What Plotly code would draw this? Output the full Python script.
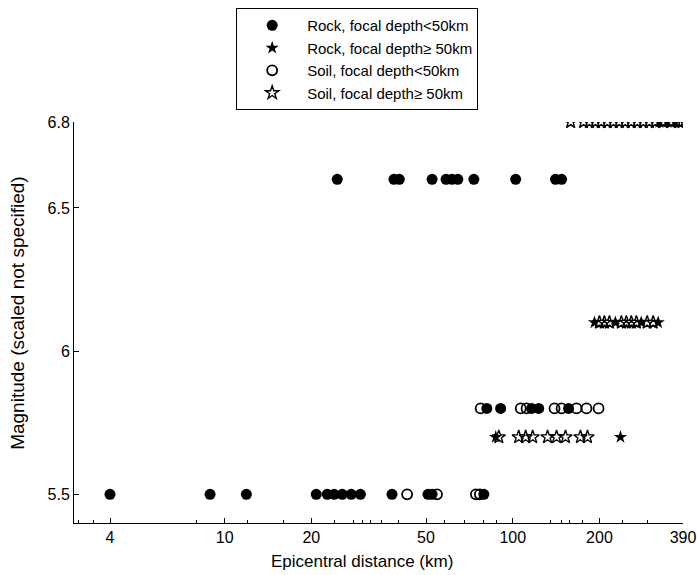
import plotly.graph_objects as go

# ---- data (epicentral distance km, magnitude) ----
rock_shallow_x = [24.6, 38.7, 40.4, 52.5, 58.7, 61.5, 64.5, 73.3, 102.4, 140.8, 147.8,
                  4.0, 8.9, 11.9, 20.8, 22.7, 24.0, 25.6, 27.5, 29.6, 38.1, 50.8, 52.5, 79.4,
                  81.3, 90.8, 116.3, 123.1, 156.3]
rock_shallow_y = [6.6] * 11 + [5.5] * 13 + [5.8] * 5

rock_deep_x = [87.3, 236.6, 192.2, 227.2, 279.3, 319.8, 322.6, 343.6, 366.0]
rock_deep_y = [5.7, 5.7, 6.1, 6.1, 6.1, 6.1, 6.8, 6.8, 6.8]

soil_shallow_x = [43.0, 54.6, 74.5, 76.9,
                  77.4, 106.6, 111.7, 139.7, 147.8, 166.5, 180.3, 198.6]
soil_shallow_y = [5.5] * 4 + [5.8] * 8

soil_deep_x = [89.5, 104.9, 110.9, 117.3, 132.1, 142.0, 152.5, 171.8, 181.8,
               200.0, 208.0, 216.6, 238.3, 248.0, 258.0, 268.7, 292.9, 307.3,
               158.9, 176.2, 184.7, 193.6, 203.0, 213.0, 223.5, 234.3, 245.7, 258.0,
               270.7, 284.0, 298.0, 312.5, 332.9, 354.6, 378.0, 387.0]
soil_deep_y = [5.7] * 9 + [6.1] * 9 + [6.8] * 18

x_tickvals = [4, 10, 20, 50, 100, 200, 390]
x_ticktext = ["4", "10", "20", "50", "100", "200", "390"]
x_minor = [3.1, 3.5, 8, 12, 16, 24, 28, 30, 32, 35, 40, 58, 68, 79, 88,
           135, 148, 158, 175, 240, 293]
y_tickvals = [5.5, 6.0, 6.5, 6.8]
y_ticktext = ["5.5", "6", "6.5", "6.8"]

x_title = "Epicentral distance (km)"
y_title = "Magnitude (scaled not specified)"
names = ["Rock, focal depth&lt;50km", "Rock, focal depth\u2265 50km",
         "Soil, focal depth&lt;50km", "Soil, focal depth\u2265 50km"]

fig = go.Figure()
fig.add_trace(go.Scatter(x=rock_shallow_x, y=rock_shallow_y, mode="markers", name=names[0],
                         marker=dict(symbol="circle", size=11, color="black")))
fig.add_trace(go.Scatter(x=rock_deep_x, y=rock_deep_y, mode="markers", name=names[1],
                         marker=dict(symbol="star", size=10, color="black")))
fig.add_trace(go.Scatter(x=soil_shallow_x, y=soil_shallow_y, mode="markers", name=names[2],
                         marker=dict(symbol="circle-open", size=10, color="black",
                                     line=dict(width=1.8, color="black"))))
fig.add_trace(go.Scatter(x=soil_deep_x, y=soil_deep_y, mode="markers", name=names[3],
                         marker=dict(symbol="star-open", size=10, color="black",
                                     line=dict(width=1.4, color="black"))))

FAM = "Liberation Sans, Arial, sans-serif"
font = dict(family=FAM, size=16, color="black")

fig.update_layout(
    width=697, height=575,
    paper_bgcolor="white", plot_bgcolor="white",
    margin=dict(l=74, r=14, t=122, b=52, autoexpand=False),
    font=font,
    showlegend=True,
    legend=dict(x=0.465, y=1.284, xanchor="center", yanchor="top",
                bordercolor="black", borderwidth=1, bgcolor="white",
                font=dict(family=FAM, size=15, color="black"),
                itemwidth=60, tracegroupgap=0),
    xaxis=dict(type="log", range=[0.4771, 2.5911], automargin=False,
               tickmode="array", tickvals=x_tickvals, ticktext=x_ticktext,
               ticks="inside", ticklen=5, tickcolor="black", tickwidth=1,
               showline=True, linecolor="black", linewidth=1, mirror=False,
               showgrid=False, zeroline=False, ticklabeloverflow="allow",
               minor=dict(tickmode="array", tickvals=x_minor, ticks="inside",
                          ticklen=3, tickcolor="black", showgrid=False)),
    yaxis=dict(range=[5.4, 6.8], automargin=False,
               tickmode="array", tickvals=y_tickvals, ticktext=y_ticktext,
               ticks="inside", ticklen=5, tickcolor="black", tickwidth=1,
               showline=True, linecolor="black", linewidth=1, mirror=False,
               showgrid=False, zeroline=False),
    annotations=[
        dict(text=x_title, xref="paper", yref="paper", x=0.473, y=-0.097,
             xanchor="center", yanchor="middle", showarrow=False,
             font=dict(family=FAM, size=17, color="black")),
        dict(text=y_title, xref="paper", yref="paper", x=-0.092, y=0.524,
             xanchor="center", yanchor="middle", showarrow=False, textangle=-90,
             font=dict(family=FAM, size=19, color="black")),
    ],
)

fig.write_html("out.html", config={"displayModeBar": False},
               post_script="document.body.style.margin='0';document.body.style.overflow='hidden';")
